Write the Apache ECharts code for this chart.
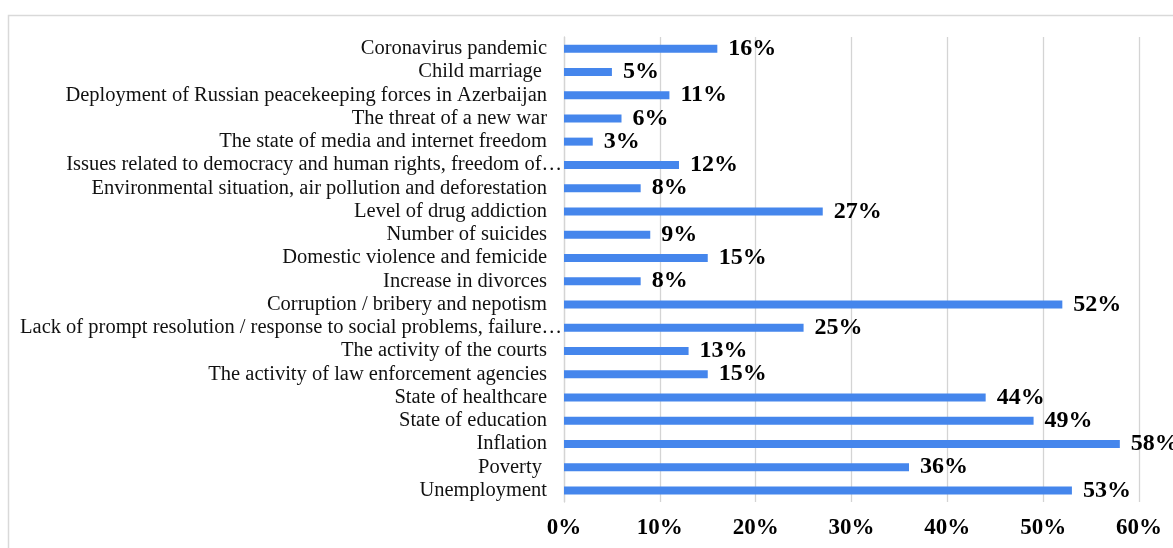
<!DOCTYPE html>
<html>
<head>
<meta charset="utf-8">
<script src="https://cdn.jsdelivr.net/npm/echarts@6/dist/echarts.min.js"></script>
<style>
  html, body { margin: 0; padding: 0; background: #fff; }
  #chart { width: 1173px; height: 548px; }
</style>
</head>
<body>
<div id="chart"></div>
<script>
// Problems named by respondents, listed top to bottom
const categories = [
  'Coronavirus pandemic',
  'Child marriage ',
  'Deployment of Russian peacekeeping forces in Azerbaijan',
  'The threat of a new war',
  'The state of media and internet freedom',
  'Issues related to democracy and human rights, freedom of…',
  'Environmental situation, air pollution and deforestation',
  'Level of drug addiction',
  'Number of suicides',
  'Domestic violence and femicide',
  'Increase in divorces',
  'Corruption / bribery and nepotism',
  'Lack of prompt resolution / response to social problems, failure…',
  'The activity of the courts',
  'The activity of law enforcement agencies',
  'State of healthcare',
  'State of education',
  'Inflation',
  'Poverty ',
  'Unemployment'
];

// Share of respondents, percent
const shares = [16, 5, 11, 6, 3, 12, 8, 27, 9, 15, 8, 52, 25, 13, 15, 44, 49, 58, 36, 53];

// Value-axis ticks, percent
const ticks = [0, 10, 20, 30, 40, 50, 60];

const serif = "'Liberation Serif', 'Times New Roman', serif";

const chart = echarts.init(document.getElementById('chart'), null, { renderer: 'canvas' });

chart.setOption({
  backgroundColor: '#ffffff',
  animation: false,
  graphic: [{
    type: 'rect',
    silent: true,
    shape: { x: 8.5, y: 15.5, width: 1300, height: 700 },
    style: { fill: 'none', stroke: '#d9d9d9', lineWidth: 1.5 }
  }],
  grid: { left: 564, right: 34, top: 37, bottom: 46, containLabel: false },
  xAxis: {
    type: 'value',
    min: ticks[0],
    max: ticks[ticks.length - 1],
    interval: ticks[1] - ticks[0],
    axisLine: { show: false },
    axisTick: { show: false },
    splitLine: { show: true, lineStyle: { color: '#d4d4d4', width: 1.3 } },
    axisLabel: {
      margin: 15,
      formatter: v => v + '%',
      color: '#000',
      fontFamily: serif,
      fontWeight: 'bold',
      fontSize: 23
    }
  },
  yAxis: {
    type: 'category',
    data: categories,
    inverse: true,
    axisLine: { show: true, lineStyle: { color: '#d4d4d4', width: 1.3 } },
    axisTick: { show: false },
    axisLabel: {
      interval: 0,
      margin: 2,
      color: '#111',
      fontFamily: serif,
      fontSize: 20.5,
      // shortened names run right up to the axis; full names keep a gap
      formatter: name => name.endsWith('…') ? '{cut|' + name + '}' : '{full|' + name + '}',
      rich: {
        cut: { fontFamily: serif, fontSize: 20.5, color: '#111' },
        full: { fontFamily: serif, fontSize: 20.5, color: '#111', padding: [0, 15, 0, 0] }
      }
    }
  },
  series: [{
    type: 'bar',
    data: shares,
    barWidth: 8,
    itemStyle: { color: '#4586ec' },
    label: {
      show: true,
      position: 'right',
      distance: 11,
      formatter: p => p.value + '%',
      color: '#000',
      fontFamily: serif,
      fontWeight: 'bold',
      fontSize: 24
    }
  }]
});
</script>
</body>
</html>
